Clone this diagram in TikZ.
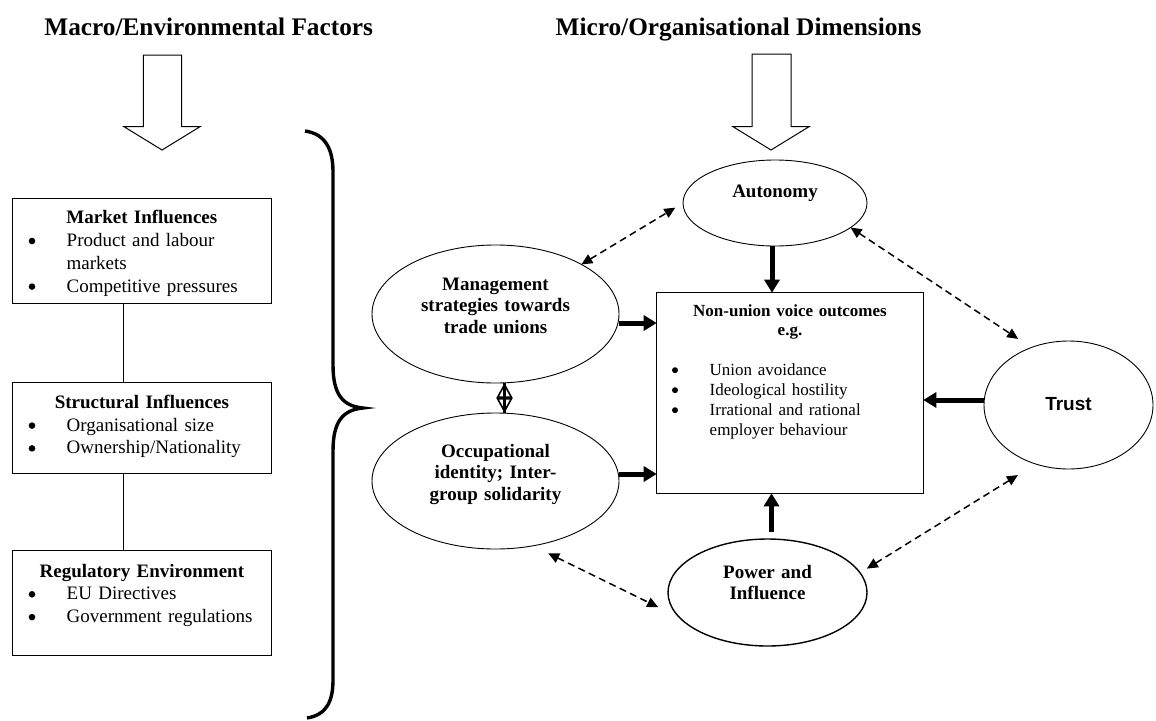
\documentclass[tikz,border=0pt]{standalone}
\usepackage{fontspec}
\setmainfont{Liberation Serif}
\newfontfamily\trustfont{Liberation Sans}
\usetikzlibrary{arrows.meta,shapes.geometric}

% box contents: a centred bold heading and bulleted lines with a hanging indent
\newcommand\dotmark[2]{\makebox[0pt]{\tikz[baseline=0pt]\fill (0pt,#1) circle (#2);}}
\newcommand\boxhead[1]{{\centering\bfseries #1\par}}
\newcommand\leftitem[1]{{\leftskip=54pt\noindent\llap{\dotmark{5.5pt}{3.3pt}\hspace{34.7pt}}#1\par}}
\newcommand\outitem[1]{{\leftskip=53pt\noindent\llap{\dotmark{5pt}{3pt}\hspace{34.7pt}}#1\par}}

\tikzset{
  every node/.style={inner sep=0pt, outer sep=0pt},
  titletext/.style={font=\fontsize{25.3}{30}\selectfont\bfseries, anchor=base},
  factorbox/.style={draw, line width=1pt, anchor=north west, text width=258.3pt,
    align=left, font=\fontsize{19}{22.8}\selectfont},
  outcomebox/.style={draw, line width=1pt, anchor=north west, text width=266.6pt,
    align=left, font=\fontsize{17}{20}\selectfont},
  dimoval/.style={draw, ellipse, line width=0.9pt, align=center,
    font=\fontsize{19}{21.5}\selectfont\bfseries},
  blockarrow/.style={draw, line width=1pt, fill=white, line join=miter},
  linkline/.style={line width=0.9pt},
  bracestroke/.style={line width=3.4pt},
  thickarr/.style={line width=5pt, -{Triangle[length=13pt,width=15pt]}},
  dasharr/.style={line width=1.5pt, dash pattern=on 7pt off 4.5pt,
    {Triangle[length=11pt,width=10pt]}-{Triangle[length=11pt,width=10pt]}},
}

\begin{document}
\begin{tikzpicture}[x=1pt,y=-1pt]
\useasboundingbox (0,0) rectangle (1156,720);

% headings
\node[titletext] (macro) at (208.7,35) {Macro/Environmental Factors};
\node[titletext] (micro) at (738.5,35) {Micro/Organisational Dimensions};

% hollow block arrows under the headings
\draw[blockarrow] (143.3,55) -- (181.7,55) -- (181.7,126.7) -- (200,126.7)
  -- (162,150) -- (124,126.7) -- (143.3,126.7) -- cycle;
\draw[blockarrow] (752,54) -- (791,54) -- (791,126.7) -- (809,126.7)
  -- (771,150) -- (733,126.7) -- (752,126.7) -- cycle;

% macro factor boxes
\node[factorbox, text height=25.4pt, text depth=79.3pt] (market) at (12.7,198.3)
  {\boxhead{Market Influences}\leftitem{Product and labour\\markets}\leftitem{Competitive pressures}};
\node[factorbox, text height=25.6pt, text depth=65pt] (structural) at (12.7,382.7)
  {\boxhead{Structural Influences}\leftitem{Organisational size}\leftitem{Ownership/Nationality}};
\node[factorbox, text height=27pt, text depth=78.7pt] (regulatory) at (12.7,550)
  {\boxhead{Regulatory Environment}\leftitem{EU Directives}\leftitem{Government regulations}};

\draw[linkline] ([xshift=-18pt]market.south) -- ([xshift=-18pt]structural.north);
\draw[linkline] ([xshift=-18pt]structural.south) -- ([xshift=-18pt]regulatory.north);

% large brace
\draw[bracestroke] (305,131) .. controls (326,134) and (333,150) .. (333,172)
  -- (333,365) .. controls (333,395) and (343,406) .. (363,408)
  .. controls (343,410) and (333,421) .. (333,451)
  -- (333,680) .. controls (333,702) and (326,715) .. (307,718);

% organisational dimensions
\node[dimoval, minimum width=184pt, minimum height=86pt, text width=100pt,
  text height=14pt, text depth=24.6pt] (auto) at (775,203) {Autonomy};
\node[dimoval, minimum width=247pt, minimum height=138pt, text width=160pt,
  text height=15pt, text depth=63pt] (mgmt) at (495.5,314)
  {Management\\strategies towards\\trade unions};
\node[dimoval, minimum width=247pt, minimum height=136pt, text width=160pt,
  text height=15pt, text depth=63pt] (occ) at (495.5,481)
  {Occupational\\identity; Inter-\\group solidarity};
\node[dimoval, line width=1.4pt, minimum width=199pt, minimum height=107pt, text width=110pt,
  text height=14pt, text depth=43pt] (power) at (767.5,592.5)
  {Power and\\Influence};
\node[dimoval, minimum width=169pt, minimum height=128pt, text width=60pt,
  text height=15pt, text depth=5pt, font=\fontsize{19}{22}\selectfont\trustfont\bfseries]
  (trust) at (1068.5,405) {Trust};

% outcome box
\node[outcomebox, text height=24pt, text depth=176.6pt] (nonunion) at (656.7,292.7)
  {{\centering\bfseries Non-union voice outcomes\\[-1.5pt]e.g.\par}\vspace{20pt}%
   \outitem{Union avoidance}\outitem{Ideological hostility}%
   \outitem{Irrational and rational\\employer behaviour}};

% direct influences on the outcomes
\coordinate (m1) at ([yshift=-9pt]mgmt.east);
\coordinate (o1) at ([yshift=7pt]occ.east);
\coordinate (a1) at ([xshift=-3pt]auto.south);
\coordinate (t1) at ([yshift=5pt]trust.west);
\coordinate (p1) at ([xshift=4pt,yshift=7pt]power.north);
\draw[thickarr] (m1) -- (m1 -| nonunion.west);
\draw[thickarr] (o1) -- (o1 -| nonunion.west);
\draw[thickarr] (a1) -- (a1 |- nonunion.north);
\draw[thickarr] (t1) -- (t1 -| nonunion.east);
\draw[thickarr] (p1) -- (p1 |- nonunion.south);

% two-way link between management strategies and occupational identity
\coordinate (d1) at ([xshift=9pt]mgmt.south);
\draw[line width=3pt] (d1) -- (d1 |- occ.north);
\draw[line width=1.6pt, {Triangle[open,length=15pt,width=16pt]}-{Triangle[open,length=15pt,width=16pt]}]
  (d1) -- (d1 |- occ.north);

% dashed two-way links around the outcomes
\draw[dasharr, shorten >=9pt] (mgmt.30) -- (auto.180);
\draw[dasharr, shorten >=15.6pt] (auto.-18) -- (trust.123);
\draw[dasharr, shorten <=21pt, shorten >=8pt] (trust.-119) -- (power.12);
\draw[dasharr, shorten <=17pt, shorten >=24pt] (occ.-60) -- (power.196);
\end{tikzpicture}
\end{document}
